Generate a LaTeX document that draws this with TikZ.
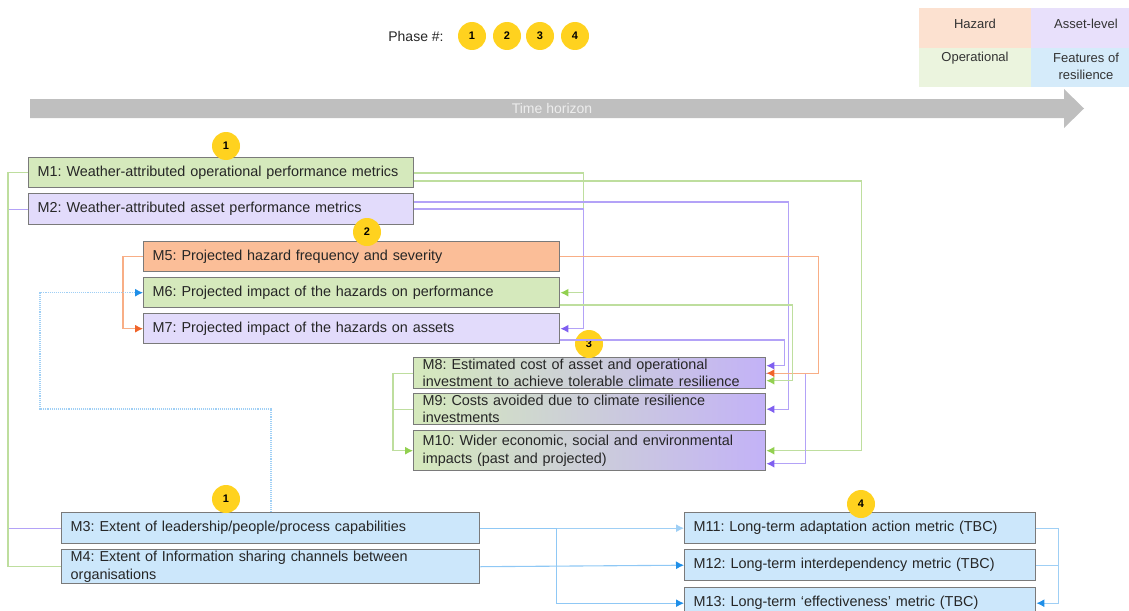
\documentclass[tikz,border=0pt]{standalone}
\usepackage{fontspec}
\setmainfont{Liberation Sans}
\usetikzlibrary{arrows.meta,calc}
\definecolor{gfill}{HTML}{D5E9BC}
\definecolor{pfill}{HTML}{E2DBFB}
\definecolor{ofill}{HTML}{FBBE98}
\definecolor{bfill}{HTML}{CCE7FB}
\definecolor{gradr}{HTML}{C3B2F7}
\definecolor{bordc}{HTML}{7A7A7A}
\definecolor{lhaz}{HTML}{FCE1D0}
\definecolor{lass}{HTML}{E8E0FB}
\definecolor{lope}{HTML}{EBF4DE}
\definecolor{lfea}{HTML}{D5EBFA}
\definecolor{arrgray}{HTML}{BFBFBF}
\definecolor{gline}{HTML}{BEDE9E}
\definecolor{gtip}{HTML}{92D050}
\definecolor{pline}{HTML}{B3A2F7}
\definecolor{ptip}{HTML}{7F5FF0}
\definecolor{oline}{HTML}{F8AE86}
\definecolor{otip}{HTML}{F0642A}
\definecolor{bline}{HTML}{8FC8F5}
\definecolor{btip}{HTML}{1F8FE8}
\definecolor{blight}{HTML}{9FCFF5}
\definecolor{yel}{HTML}{FFD21F}
\definecolor{txt}{HTML}{262626}
\begin{document}
\frenchspacing
\begin{tikzpicture}[x=1pt,y=-1pt,
  box/.style={draw=bordc, line width=1.4pt, anchor=north west, inner xsep=9pt, inner ysep=0pt, align=left, text=txt, font=\fontsize{14.4}{17.2}\selectfont},
  badge/.style={circle, fill=yel, minimum size=28pt, inner sep=0pt, font=\fontsize{11}{13}\selectfont\bfseries},
  conn/.style={line width=1.1pt},
  gc/.style={conn, draw=gline, -{Latex[length=8pt,width=8pt,color=gtip]}},
  pc/.style={conn, draw=pline, -{Latex[length=8pt,width=8pt,color=ptip]}},
  oc/.style={conn, draw=oline, -{Latex[length=8pt,width=8pt,color=otip]}},
  bc/.style={conn, draw=bline, -{Latex[length=8pt,width=8pt,color=btip]}},
  lgtext/.style={font=\fontsize{13}{16}\selectfont, align=center, text=black!80}
]
\useasboundingbox (0,0) rectangle (1129,610);
\clip (0,0) rectangle (1129,610);

% header
\node[font=\fontsize{14}{16}\selectfont, text=txt] (phase) at (416,36) {Phase \#:};
\node[badge] (h1) at (472,36) {1};
\node[badge] (h2) at (507,36) {2};
\node[badge] (h3) at (540,36) {3};
\node[badge] (h4) at (575,36) {4};

% legend
\fill[lhaz] (919,8) rectangle (1031,48);
\fill[lass] (1031,8) rectangle (1129,48);
\fill[lope] (919,48) rectangle (1031,87);
\fill[lfea] (1031,48) rectangle (1129,87);
\node[lgtext] (lg1) at (975,24) {Hazard};
\node[lgtext] (lg2) at (1086,24) {Asset-level};
\node[lgtext] (lg3) at (975,58) {Operational};
\node[lgtext, anchor=north, font=\fontsize{13}{17}\selectfont] (lg4) at (1086,50) {Features of\\resilience};

% time horizon arrow
\fill[arrgray] (30,99) -- (1064,99) -- (1064,89) -- (1084,108.5) -- (1064,128) -- (1064,118) -- (30,118) -- cycle;
\node[font=\fontsize{14}{16}\selectfont, text=white!93!black] (th) at (552,108.5) {Time horizon};

% boxes
\node[box, fill=gfill, text width=367pt, minimum height=30pt] (m1) at (28,157) {M1: Weather-attributed operational performance metrics};
\node[box, fill=pfill, text width=367pt, minimum height=31pt] (m2) at (28,193) {M2: Weather-attributed asset performance metrics};
\node[box, fill=ofill, text width=398pt, minimum height=30pt] (m5) at (143,241) {M5: Projected hazard frequency and severity};
\node[box, fill=gfill, text width=398pt, minimum height=30pt] (m6) at (143,277) {M6: Projected impact of the hazards on performance};
\node[box, fill=pfill, text width=398pt, minimum height=30pt] (m7) at (143,313) {M7: Projected impact of the hazards on assets};
\node[box, left color=gfill, right color=gradr, text width=334pt, minimum height=31pt] (m8) at (413,357) {M8: Estimated cost of asset and operational\\investment to achieve tolerable climate resilience};
\node[box, left color=gfill, right color=gradr, text width=334pt, minimum height=31pt] (m9) at (413,393) {M9: Costs avoided due to climate resilience\\investments};
\node[box, left color=gfill, right color=gradr, text width=334pt, minimum height=40pt] (m10) at (413,430) {M10: Wider economic, social and environmental\\impacts (past and projected)};
\node[box, fill=bfill, text width=400pt, minimum height=31pt] (m3) at (61,512) {M3: Extent of leadership/people/process capabilities};
\node[box, fill=bfill, text width=400pt, minimum height=34pt] (m4) at (61,549) {M4: Extent of Information sharing channels between\\organisations};
\node[box, fill=bfill, text width=333pt, minimum height=31pt] (m11) at (684,512) {M11: Long-term adaptation action metric (TBC)};
\node[box, fill=bfill, text width=333pt, minimum height=31pt] (m12) at (684,549) {M12: Long-term interdependency metric (TBC)};
\node[box, fill=bfill, text width=333pt, minimum height=31pt] (m13) at (684,587) {M13: Long-term ‘effectiveness’ metric (TBC)};

% badges
\node[badge] (b1) at (226,146) {1};
\node[badge] (b2) at (367,232) {2};
\node[badge] (b3) at (589,344) {3};
\node[badge] (b4) at (226,499) {1};
\node[badge] (b5) at (861,504) {4};

% left-side links
\draw[conn, draw=pline] (m2.west) -- ([xshift=-20pt]m2.west) |- (m3.west);
\draw[conn, draw=gline] (m1.west) -- ([xshift=-20pt]m1.west) |- (m4.west);
\draw[oc] (m5.west) -| ([xshift=-20pt]m7.west) -- (m7.west);
\coordinate (dl) at (40,409);
\draw[conn, draw=blight, densely dotted, -{Latex[length=8pt,width=8pt,color=btip]}] ([xshift=210pt]m3.north west) |- (dl) |- (m6.west);

% right-side links
\draw[gc] (m1.east |- 0,173) -| ([xshift=23pt]m6.east) -- (m6.east);
\draw[gc] (m1.east |- 0,181) -| ([xshift=95pt]m10.east) -- (m10.east);
\draw[pc] (m2.east |- 0,202) -| ([xshift=22pt]m9.east) -- (m9.east);
\draw[pc] (m2.east |- 0,209) -| ([xshift=23pt]m7.east) -- (m7.east);
\draw[pc] (m8.east) -| ([xshift=39pt,yshift=-13pt]m10.east) -- ([yshift=-13pt]m10.east);
\draw[oc] (m5.east) -| ([xshift=52pt]m8.east) -- (m8.east);
\draw[gc] (m6.east |- 0,305) -| ([xshift=26pt,yshift=-7.5pt]m8.east) -- ([yshift=-7.5pt]m8.east);
\draw[pc] (m7.east |- 0,340) -| ([xshift=18pt,yshift=7.5pt]m8.east) -- ([yshift=7.5pt]m8.east);

% M8/M9 to M10 on the left
\draw[gc] (m8.west) -| ([xshift=-20pt]m10.west) -- (m10.west);
\draw[conn, draw=gline] (m9.west) -- ([xshift=-20pt]m9.west);

% bottom links
\draw[conn, draw=blight, -{Latex[length=8pt,width=8pt,color=blight]}] (m3.east) -- (m11.west);
\draw[bc] (m3.east) -- ([xshift=76pt]m3.east) |- (m13.west);
\draw[bc] (m4.east) -- (m12.west);
\draw[conn, draw=blight, -{Latex[length=8pt,width=8pt,color=btip]}] (m11.east) -| ([xshift=22pt]m13.east) -- (m13.east);
\draw[conn, draw=blight] (m12.east) -- ([xshift=22pt]m12.east);
\end{tikzpicture}
\end{document}
